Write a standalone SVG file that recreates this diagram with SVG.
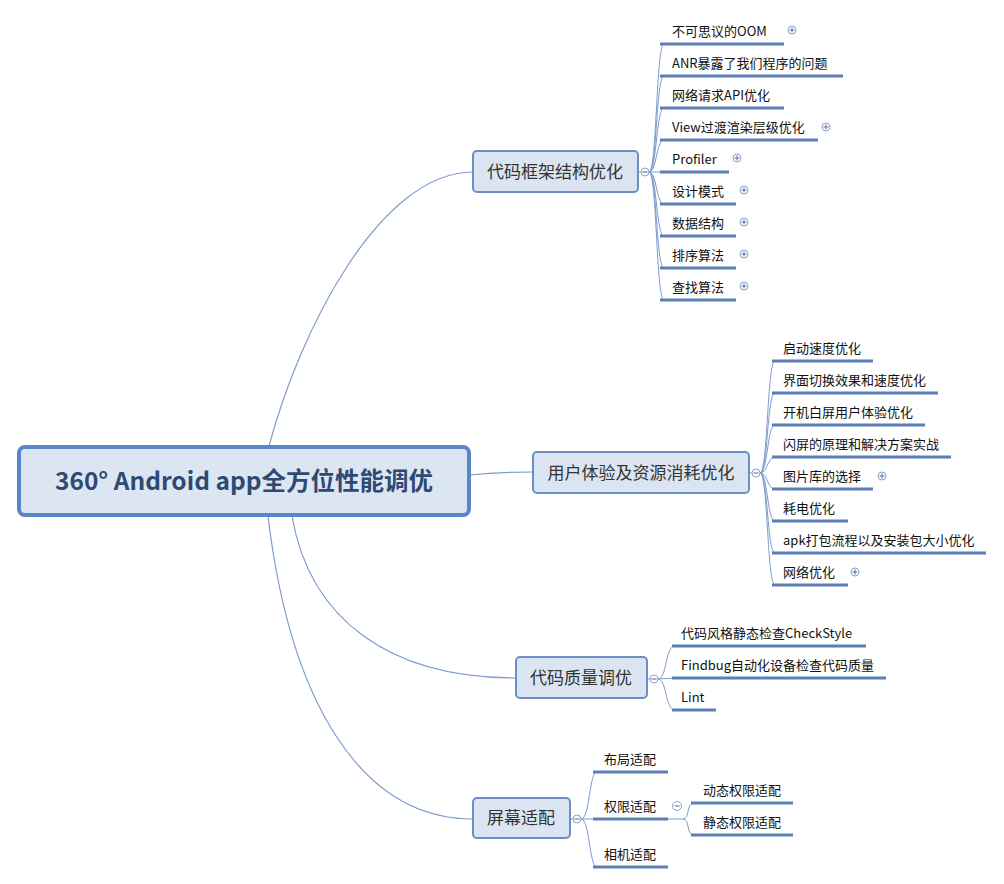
<svg xmlns="http://www.w3.org/2000/svg" width="1004" height="884" viewBox="0 0 1004 884">
<defs>
<style>
.bg{fill:#ffffff}
.root rect{fill:#dce6f2;stroke:#5786c9;stroke-width:4}
.root text{font-family:"Noto Sans CJK SC","Noto Sans",sans-serif;font-weight:bold;font-size:24.5px;fill:#2e4a72;text-anchor:middle}
.branch rect{fill:#dbe5f1;stroke:#6b8fc5;stroke-width:2}
.branch text{font-family:"Noto Sans CJK SC","Noto Sans",sans-serif;font-size:17px;fill:#333333;text-anchor:middle}
.leaf line{stroke:#5b7fb7;stroke-width:3}
.leaf text{font-family:"Noto Sans CJK SC","Noto Sans",sans-serif;font-size:13px;fill:#111111}
.conn path{fill:none;stroke:#7c9bcc;stroke-width:1}
.conn .main{stroke:#7f9ccb;stroke-width:1.2}
.tog circle{fill:#ffffff;stroke:#8aa3c8;stroke-width:1}
.tog path{stroke:#5f769c;stroke-width:1.1;fill:none}
</style>
</defs>
<rect class="bg" x="0" y="0" width="1004" height="884"/>

<g id="connectors" class="conn">
<path class="main" d="M269,446 C300,330 380,172 473,172"/>
<path class="main" d="M469,475 Q500,472 533,472"/>
<path class="main" d="M292,516 C310,620 390,678 516,678"/>
<path class="main" d="M268,516 C290,700 360,819 473,819"/>
<!-- group 1 -->
<path d="M638,172 L641,172"/>
<path d="M649,172 C657,172 656,44 664,44"/>
<path d="M649,172 C657,172 656,76 664,76"/>
<path d="M649,172 C657,172 656,108 664,108"/>
<path d="M649,172 C657,172 656,140 664,140"/>
<path d="M649,172 L664,172"/>
<path d="M649,172 C657,172 656,204 664,204"/>
<path d="M649,172 C657,172 656,236 664,236"/>
<path d="M649,172 C657,172 656,268 664,268"/>
<path d="M649,172 C657,172 656,300 664,300"/>
<!-- group 2 -->
<path d="M749,473 L752,473"/>
<path d="M760,473 C768,473 767,361 775,361"/>
<path d="M760,473 C768,473 767,393 775,393"/>
<path d="M760,473 C768,473 767,425 775,425"/>
<path d="M760,473 C768,473 767,457 775,457"/>
<path d="M760,473 C768,473 767,489 775,489"/>
<path d="M760,473 C768,473 767,521 775,521"/>
<path d="M760,473 C768,473 767,553 775,553"/>
<path d="M760,473 C768,473 767,585 775,585"/>
<!-- group 3 -->
<path d="M647,679 L650,679"/>
<path d="M658,679 C667,679 665,646 675,646"/>
<path d="M658,679 L675,678"/>
<path d="M658,679 C667,679 665,710 675,710"/>
<!-- group 4 -->
<path d="M570,819 L573,819"/>
<path d="M581,819 C590,819 589,772 597,772"/>
<path d="M581,819 L597,819"/>
<path d="M581,819 C590,819 589,867 597,867"/>
<path d="M668,819 L683,819"/>
<path d="M683,819 C690,819 686,803 694,803"/>
<path d="M683,819 C690,819 686,835 694,835"/>
</g>

<g id="root" class="root">
<rect x="19" y="447" width="450" height="68" rx="6"/>
<text x="244" y="490">360° Android app全方位性能调优</text>
</g>

<g id="b1" class="branch">
<rect x="473" y="151" width="165" height="41" rx="4"/>
<text x="555" y="178">代码框架结构优化</text>
</g>
<g id="b2" class="branch">
<rect x="533" y="452" width="216" height="41" rx="4"/>
<text x="641" y="479">用户体验及资源消耗优化</text>
</g>
<g id="b3" class="branch">
<rect x="516" y="657" width="131" height="41" rx="4"/>
<text x="581" y="684">代码质量调优</text>
</g>
<g id="b4" class="branch">
<rect x="473" y="798" width="97" height="40" rx="4"/>
<text x="521" y="824">屏幕适配</text>
</g>

<!-- toggles (collapse) -->
<g class="tog">
<g id="t1"><circle cx="645" cy="172" r="4"/><path d="M642.5,172 H647.5"/></g>
<g id="t2"><circle cx="756" cy="473" r="4"/><path d="M753.5,473 H758.5"/></g>
<g id="t3"><circle cx="654" cy="679" r="4"/><path d="M651.5,679 H656.5"/></g>
<g id="t4"><circle cx="577" cy="819" r="4"/><path d="M574.5,819 H579.5"/></g>
<g id="t5"><circle cx="677" cy="806" r="4.5"/><path d="M674.5,806 H679.5"/></g>
</g>

<!-- group 1 leaves -->
<g id="l1-1" class="leaf"><line x1="660" y1="44" x2="784" y2="44"/><text x="672" y="36">不可思议的OOM</text></g>
<g id="l1-2" class="leaf"><line x1="660" y1="76" x2="843" y2="76"/><text x="672" y="68">ANR暴露了我们程序的问题</text></g>
<g id="l1-3" class="leaf"><line x1="660" y1="108" x2="784" y2="108"/><text x="672" y="100">网络请求API优化</text></g>
<g id="l1-4" class="leaf"><line x1="660" y1="140" x2="818" y2="140"/><text x="672" y="132">View过渡渲染层级优化</text></g>
<g id="l1-5" class="leaf"><line x1="660" y1="172" x2="729" y2="172"/><text x="672" y="164">Profiler</text></g>
<g id="l1-6" class="leaf"><line x1="660" y1="204" x2="736" y2="204"/><text x="672" y="196">设计模式</text></g>
<g id="l1-7" class="leaf"><line x1="660" y1="236" x2="736" y2="236"/><text x="672" y="228">数据结构</text></g>
<g id="l1-8" class="leaf"><line x1="660" y1="268" x2="736" y2="268"/><text x="672" y="260">排序算法</text></g>
<g id="l1-9" class="leaf"><line x1="660" y1="300" x2="736" y2="300"/><text x="672" y="292">查找算法</text></g>

<!-- group 2 leaves -->
<g id="l2-1" class="leaf"><line x1="772" y1="361" x2="873" y2="361"/><text x="783" y="353">启动速度优化</text></g>
<g id="l2-2" class="leaf"><line x1="772" y1="393" x2="938" y2="393"/><text x="783" y="385">界面切换效果和速度优化</text></g>
<g id="l2-3" class="leaf"><line x1="772" y1="425" x2="925" y2="425"/><text x="783" y="417">开机白屏用户体验优化</text></g>
<g id="l2-4" class="leaf"><line x1="772" y1="457" x2="951" y2="457"/><text x="783" y="449">闪屏的原理和解决方案实战</text></g>
<g id="l2-5" class="leaf"><line x1="772" y1="489" x2="873" y2="489"/><text x="783" y="481">图片库的选择</text></g>
<g id="l2-6" class="leaf"><line x1="772" y1="521" x2="848" y2="521"/><text x="783" y="513">耗电优化</text></g>
<g id="l2-7" class="leaf"><line x1="772" y1="553" x2="986" y2="553"/><text x="783" y="545">apk打包流程以及安装包大小优化</text></g>
<g id="l2-8" class="leaf"><line x1="772" y1="585" x2="848" y2="585"/><text x="783" y="577">网络优化</text></g>

<!-- group 3 leaves -->
<g id="l3-1" class="leaf"><line x1="672" y1="646" x2="866" y2="646"/><text x="681" y="638">代码风格静态检查CheckStyle</text></g>
<g id="l3-2" class="leaf"><line x1="672" y1="678" x2="886" y2="678"/><text x="681" y="670">Findbug自动化设备检查代码质量</text></g>
<g id="l3-3" class="leaf"><line x1="672" y1="710" x2="716" y2="710"/><text x="681" y="702">Lint</text></g>

<!-- group 4 leaves -->
<g id="l4-1" class="leaf"><line x1="593" y1="772" x2="668" y2="772"/><text x="604" y="764">布局适配</text></g>
<g id="l4-2" class="leaf"><line x1="593" y1="819" x2="668" y2="819"/><text x="604" y="811">权限适配</text></g>
<g id="l4-3" class="leaf"><line x1="593" y1="867" x2="668" y2="867"/><text x="604" y="859">相机适配</text></g>
<g id="l4-2-1" class="leaf"><line x1="691" y1="803" x2="793" y2="803"/><text x="703" y="795">动态权限适配</text></g>
<g id="l4-2-2" class="leaf"><line x1="691" y1="835" x2="793" y2="835"/><text x="703" y="827">静态权限适配</text></g>

<!-- toggles (expand) -->
<g class="tog">
<g id="p1"><circle cx="792" cy="30" r="4"/><path d="M789.5,30 H794.5 M792,27.5 V32.5"/></g>
<g id="p2"><circle cx="826" cy="127" r="4"/><path d="M823.5,127 H828.5 M826,124.5 V129.5"/></g>
<g id="p3"><circle cx="737" cy="158" r="4"/><path d="M734.5,158 H739.5 M737,155.5 V160.5"/></g>
<g id="p4"><circle cx="744" cy="190" r="4"/><path d="M741.5,190 H746.5 M744,187.5 V192.5"/></g>
<g id="p5"><circle cx="744" cy="222" r="4"/><path d="M741.5,222 H746.5 M744,219.5 V224.5"/></g>
<g id="p6"><circle cx="744" cy="254" r="4"/><path d="M741.5,254 H746.5 M744,251.5 V256.5"/></g>
<g id="p7"><circle cx="744" cy="286" r="4"/><path d="M741.5,286 H746.5 M744,283.5 V288.5"/></g>
<g id="p8"><circle cx="882" cy="476" r="4"/><path d="M879.5,476 H884.5 M882,473.5 V478.5"/></g>
<g id="p9"><circle cx="855" cy="572" r="4"/><path d="M852.5,572 H857.5 M855,569.5 V574.5"/></g>
</g>
</svg>
